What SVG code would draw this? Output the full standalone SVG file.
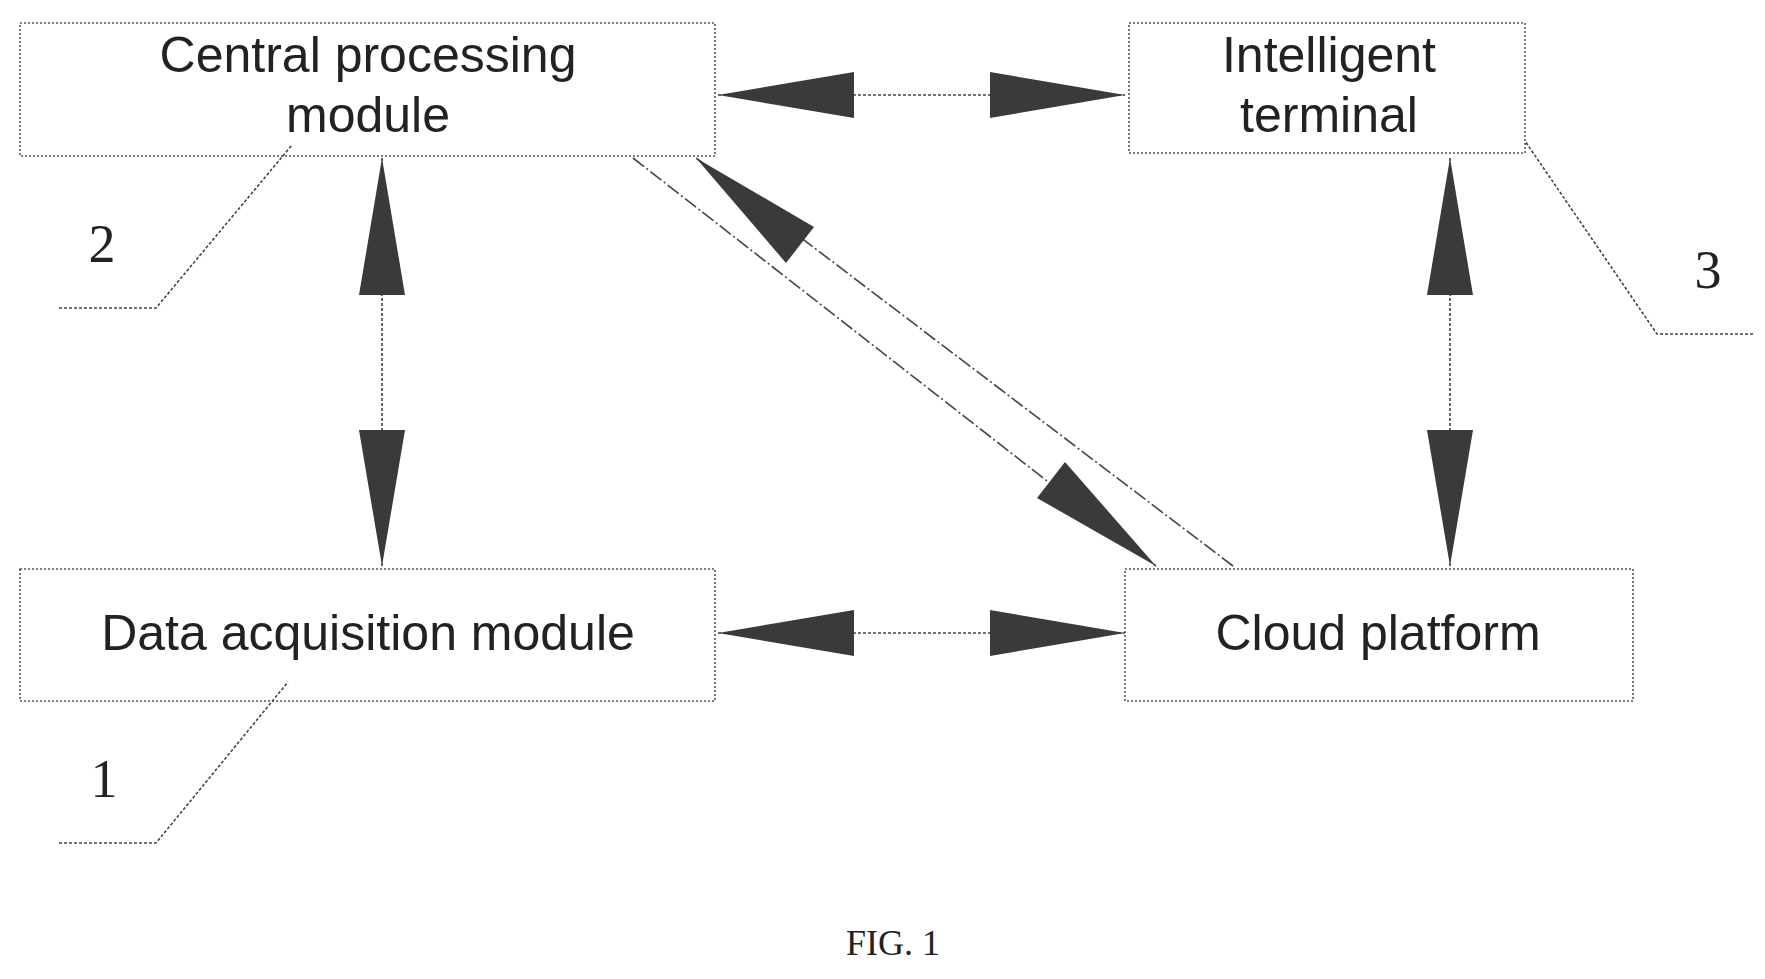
<svg xmlns="http://www.w3.org/2000/svg" width="1765" height="979" viewBox="0 0 1765 979">
<style>
.box{fill:#fff;stroke:#555;stroke-width:1.6;stroke-dasharray:2 2}
.t{font-family:"Liberation Sans",Arial,sans-serif;font-size:50px;fill:#222;text-anchor:middle}
.n{font-family:"Liberation Serif","Times New Roman",serif;font-size:54px;fill:#222;text-anchor:middle}
.c{stroke:#444;stroke-width:1.6;stroke-dasharray:3 2;fill:none}
.d{stroke:#444;stroke-width:1.6;stroke-dasharray:14 3 2 3;fill:none}
.h{fill:#3a3a3a}
</style>
<rect width="1765" height="979" fill="#fff"/>
<g id="cpm"><rect class="box" x="20" y="23" width="695" height="133"/><text class="t" x="368" y="72">Central processing</text><text class="t" x="368" y="132">module</text></g>
<g id="it"><rect class="box" x="1129" y="23" width="396" height="130"/><text class="t" x="1329" y="72">Intelligent</text><text class="t" x="1329" y="132">terminal</text></g>
<g id="dam"><rect class="box" x="20" y="569" width="695" height="132"/><text class="t" x="368" y="650">Data acquisition module</text></g>
<g id="cp"><rect class="box" x="1125" y="569" width="508" height="132"/><text class="t" x="1378" y="650">Cloud platform</text></g>
<g id="connectors">
<line class="c" x1="718" y1="95" x2="1125" y2="95"/>
<polygon class="h" points="718,95 854,72 854,118"/><polygon class="h" points="1125,95 990,72 990,118"/>
<line class="c" x1="718" y1="633" x2="1125" y2="633"/>
<polygon class="h" points="718,633 854,610 854,656"/><polygon class="h" points="1125,633 990,610 990,656"/>
<line class="c" x1="382" y1="158" x2="382" y2="566"/>
<polygon class="h" points="382,158 359,295 405,295"/><polygon class="h" points="382,566 359,430 405,430"/>
<line class="c" x1="1450" y1="158" x2="1450" y2="566"/>
<polygon class="h" points="1450,158 1427,295 1473,295"/><polygon class="h" points="1450,566 1427,430 1473,430"/>
<line class="d" x1="633" y1="158" x2="1156" y2="566"/>
<polygon class="h" points="1156,566 1037,498 1065,462"/>
<line class="d" x1="1233" y1="566" x2="696" y2="158"/>
<polygon class="h" points="696,158 814,227 786,263"/>
</g>
<g id="labels">
<polyline class="c" points="59,308 156,308 292,145"/><text class="n" x="102" y="262">2</text>
<polyline class="c" points="59,843 156,843 288,682"/><text class="n" x="104" y="797">1</text>
<polyline class="c" points="1753,334 1657,334 1525,141"/><text class="n" x="1708" y="288">3</text>
<text x="893" y="955" font-family="'Liberation Serif',serif" font-size="36" fill="#222" text-anchor="middle">FIG. 1</text>
</g>
</svg>
